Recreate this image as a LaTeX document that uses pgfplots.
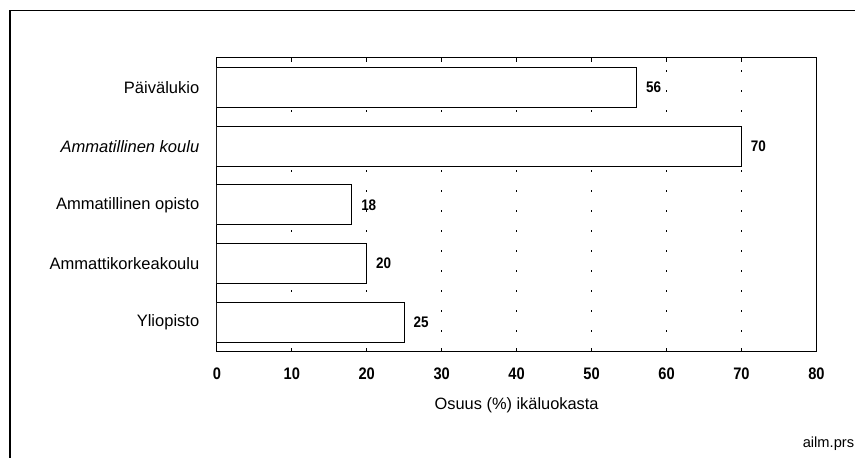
\documentclass[border=0pt]{standalone}
\usepackage{fontspec}
\setmainfont{Liberation Sans}
\newfontfamily\numfont[FakeStretch=0.88]{Liberation Sans}
\usepackage{pgfplots}
\pgfplotsset{compat=1.18}
\begin{document}
\begin{tikzpicture}[x=0.75pt,y=0.75pt]
\path (0,0) rectangle (856,458);
\draw[line width=0.9pt] (10,0) -- (10,447.5) -- (856,447.5);
\begin{axis}[
  at={(162.75pt,79.5pt)}, anchor=south west,
  scale only axis, width=450pt, height=220.5pt,
  xbar, bar width=30pt,
  xmin=0, xmax=80, ymin=-0.5, ymax=4.5,
  xtick={0,10,...,80},
  ytick={0,1,2,3,4},
  yticklabels={Yliopisto, Ammattikorkeakoulu, Ammatillinen opisto, {\itshape Ammatillinen koulu}, Päivälukio},
  ytick style={draw=none},
  xtick style={black, line width=0.6pt},
  tick align=inside, xtick pos=both, major tick length=3pt,
  axis line style={black, line width=0.75pt},
  xmajorgrids,
  grid style={black, line width=0.9pt, dash pattern=on 1.2pt off 13.8pt},
  /pgf/number format/assume math mode=true,
  xticklabel style={font=\numfont\bfseries\fontsize{12.5}{14}\selectfont, inner sep=0pt, anchor=north, yshift=-12pt},
  yticklabel style={font=\fontsize{12.4}{14}\selectfont, inner sep=0pt, anchor=east, xshift=-13pt},
  xlabel={Osuus (\%) ikäluokasta},
  xlabel style={font=\fontsize{12.3}{14}\selectfont, at={(axis description cs:0.5,0)}, anchor=north, inner sep=0pt, yshift=-34.5pt},
  nodes near coords,
  nodes near coords style={font=\numfont\bfseries\fontsize{11.5}{13}\selectfont, anchor=west, inner sep=0pt, xshift=6.75pt},
]
\addplot[draw=black, fill=white, line width=0.75pt] coordinates {
  (25,0) (20,1) (18,2) (70,3) (56,4)
};
\end{axis}
\node[anchor=base east, inner sep=0pt, font=\fontsize{11}{13}\selectfont] at (855,10) {ailm.prs};
\end{tikzpicture}
\end{document}
